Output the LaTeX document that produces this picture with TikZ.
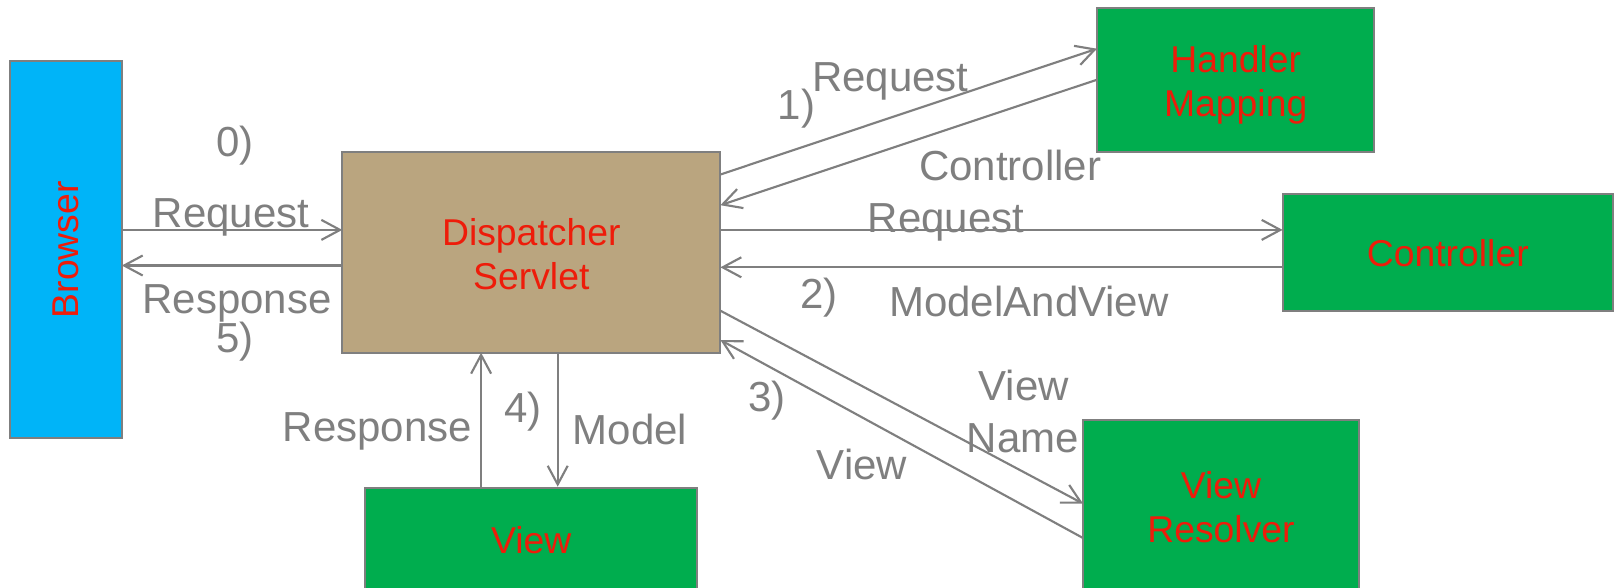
\documentclass[tikz,border=0pt]{standalone}
\usepackage{fontspec}
\setmainfont{Liberation Sans}
\usetikzlibrary{arrows.meta}
\definecolor{lgray}{HTML}{7F7F7F}
\definecolor{bblue}{HTML}{00B4F8}
\definecolor{ggreen}{HTML}{00AD4E}
\definecolor{tan}{HTML}{BAA57F}
\definecolor{rred}{HTML}{EE1C0A}
\begin{document}
\begin{tikzpicture}[x=0.75pt,y=-0.75pt,
  box/.style={draw=lgray,line width=1.5pt,inner sep=0pt,font=\fontsize{28}{33}\selectfont,text=rred,align=center},
  rtxt/.style={text=rred,font=\fontsize{28}{33}\selectfont,align=center,inner sep=0pt},
  lbl/.style={text=lgray,font=\fontsize{31.5}{33}\selectfont,inner sep=0pt,anchor=center},
  arr/.style={draw=lgray,line width=1.6pt,-{Straight Barb[length=14pt,width=15pt,line width=1.6pt]}}]
\useasboundingbox (0,0) rectangle (1618,587);
% boxes
\node[box,fill=bblue,minimum width=111.5*0.75pt,minimum height=377.5*0.75pt] (br) at (66,249.7) {};
\node[rtxt,rotate=90] (brt) at (66,249.7) {Browser};
\node[box,fill=tan,minimum width=378*0.75pt,minimum height=200.3*0.75pt] (ds) at (531.3,252.5) {};
\node[rtxt] (dst) at (531.3,254.5) {Dispatcher\\Servlet};
\node[box,fill=ggreen,minimum width=277.5*0.75pt,minimum height=143.4*0.75pt] (hm) at (1235.7,79.9) {};
\node[rtxt] (hmt) at (1235.7,85) {Handler\\Mapping};
\node[box,fill=ggreen,minimum width=330.4*0.75pt,minimum height=117.9*0.75pt] (ct) at (1447.8,252.5) {};
\node[rtxt] (ctt) at (1447.8,253.5) {Controller};
\node[box,fill=ggreen,minimum width=275.7*0.75pt,minimum height=200*0.75pt,anchor=north] (vr) at (1220.8,419.3) {};
\node[rtxt] (vrt) at (1221,506.8) {View\\Resolver};
\node[box,fill=ggreen,minimum width=332.1*0.75pt,minimum height=150*0.75pt,anchor=north] (vw) at (531.3,486.7) {};
\node[rtxt] (vwt) at (531.3,540) {View};
% coordinates on box borders
\coordinate (a1) at (121.8,229.9); \coordinate (a2) at (342.3,229.9);
\coordinate (b1) at (342.3,265.5); \coordinate (b2) at (121.8,265.5);
\coordinate (c1) at (720.4,174.5); \coordinate (c2) at (1097,48.7);
\coordinate (d1) at (1097,79.7); \coordinate (d2) at (720.4,205.2);
\coordinate (e1) at (720.4,229.9); \coordinate (e2) at (1282.6,229.9);
\coordinate (f1) at (1282.6,267.3); \coordinate (f2) at (720.4,267.3);
\coordinate (g1) at (720.4,310.7); \coordinate (g2) at (1083,503.6);
\coordinate (h1) at (1083,538); \coordinate (h2) at (720.4,340);
\coordinate (i1) at (481.1,486.7); \coordinate (i2) at (481.1,352.7);
\coordinate (j1) at (557.7,352.7); \coordinate (j2) at (557.7,486.7);
% arrows
\draw[arr] (a1) -- (a2);
\draw[arr] (b1) -- (b2);
\draw[arr] (c1) -- (c2);
\draw[arr] (d1) -- (d2);
\draw[arr] (e1) -- (e2);
\draw[arr] (f1) -- (f2);
\draw[arr] (g1) -- (g2);
\draw[arr] (h1) -- (h2);
\draw[arr] (i1) -- (i2);
\draw[arr] (j1) -- (j2);
% labels
\node[lbl] (l0) at (234.7,145.3) {0)};
\node[lbl] (l0r) at (231,217.7) {Request};
\node[lbl] (l5r) at (237,303.5) {Response};
\node[lbl] (l5) at (235,341.5) {5)};
\node[lbl] (l4r) at (377.5,431.8) {Response};
\node[lbl] (l4) at (523,411.8) {4)};
\node[lbl] (l4m) at (630,429.8) {Model};
\node[lbl] (l3) at (767,400.6) {3)};
\node[lbl] (l1r) at (890.3,81.4) {Request};
\node[lbl] (l1) at (796.6,108.6) {1)};
\node[lbl] (l1c) at (1010.3,165.7) {Controller};
\node[lbl] (l2r) at (946,222) {Request};
\node[lbl] (l2) at (818.9,297.6) {2)};
\node[lbl] (l2m) at (1029,301.4) {ModelAndView};
\node[lbl] (l3v) at (1023.8,385.6) {View};
\node[lbl] (l3n) at (1023,438) {Name};
\node[lbl] (l3w) at (862,464) {View};
\end{tikzpicture}
\end{document}
